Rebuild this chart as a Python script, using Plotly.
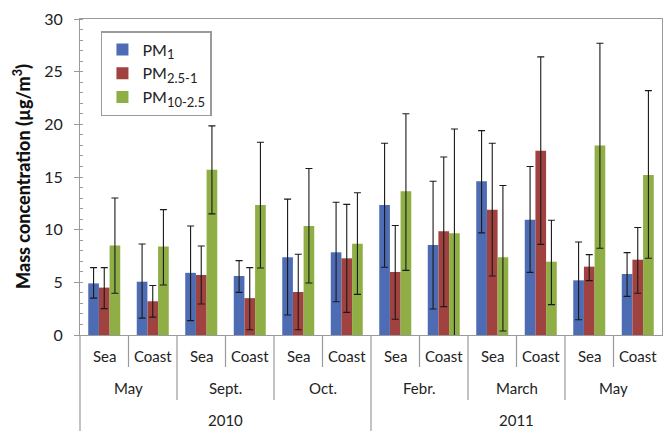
import plotly.graph_objects as go

sites = ["Sea", "Coast"] * 6
months = ["May", "Sept.", "Oct.", "Febr.", "March", "May"]
years = ["2010", "2011"]

pm1 = [4.9, 5.06, 5.9, 5.6, 7.38, 7.85, 12.35, 8.55, 14.6, 10.95, 5.19, 5.79]
pm1_up = [6.4, 8.64, 10.35, 7.06, 12.9, 12.6, 18.2, 14.6, 19.4, 16.0, 8.83, 7.82]
pm1_lo = [3.5, 1.6, 1.36, 4.05, 1.9, 3.16, 6.43, 2.47, 9.7, 5.95, 1.45, 3.67]

pm25 = [4.5, 3.2, 5.7, 3.5, 4.08, 7.28, 5.98, 9.85, 11.9, 17.5, 6.49, 7.15]
pm25_up = [6.4, 4.7, 8.45, 6.4, 7.66, 12.4, 10.4, 16.9, 18.2, 26.4, 7.63, 10.2]
pm25_lo = [2.5, 1.7, 2.94, 0.5, 0.5, 2.15, 1.49, 2.69, 5.6, 8.6, 5.16, 3.96]

pm10 = [8.5, 8.4, 15.7, 12.35, 10.35, 8.67, 13.65, 9.66, 7.38, 6.96, 18.0, 15.2]
pm10_up = [13.0, 11.9, 19.85, 18.3, 15.8, 13.5, 21.0, 19.56, 14.2, 10.9, 27.7, 23.2]
pm10_lo = [3.96, 4.75, 11.5, 6.36, 4.94, 3.86, 6.14, -0.4, 0.38, 2.88, 8.23, 7.28]

SUB = '<sub><span style="font-size:13px">{}</span></sub>'
series = [
    ("PM" + SUB.format("1"), pm1, pm1_up, pm1_lo, "#4d6cb3"),
    ("PM" + SUB.format("2.5-1"), pm25, pm25_up, pm25_lo, "#a0423f"),
    ("PM" + SUB.format("10-2.5"), pm10, pm10_up, pm10_lo, "#8fae46"),
]

FONT = "Lato"
x = list(range(len(sites)))

fig = go.Figure()
for name, vals, up, lo, col in series:
    fig.add_trace(go.Bar(
        x=x, y=vals, name=name, marker=dict(color=col, line=dict(width=0)),
        error_y=dict(type="data", symmetric=False,
                     array=[u - v for u, v in zip(up, vals)],
                     arrayminus=[v - l for v, l in zip(vals, lo)],
                     color="#1a1a1a", thickness=1.1, width=3.5),
    ))

H = 316.0
def py(px_below):
    return -px_below / H

shapes = []
for i in range(len(sites)):
    b = i + 0.5
    if b >= len(sites) - 0.5:
        continue
    if i % 2 == 0:
        y1 = py(32)
    elif i == 5:
        y1 = py(96)
    else:
        y1 = py(65)
    shapes.append(dict(type="line", xref="x", yref="paper", x0=b, x1=b, y0=0, y1=y1,
                       line=dict(color="#9a9a9a", width=1.2)))
shapes.append(dict(type="line", xref="paper", yref="paper", x0=0, x1=0, y0=0, y1=py(96),
                   line=dict(color="#9a9a9a", width=1.2)))

annotations = []
for i, s in enumerate(sites):
    annotations.append(dict(x=i, y=py(21), xref="x", yref="paper", text=s, showarrow=False,
                            font=dict(size=15, color="#222", family=FONT), yanchor="middle"))
for j, m in enumerate(months):
    annotations.append(dict(x=2 * j + 0.5, y=py(53), xref="x", yref="paper", text=m, showarrow=False,
                            font=dict(size=15, color="#222", family=FONT), yanchor="middle"))
for k, yr in enumerate(years):
    annotations.append(dict(x=6 * k + 2.5, y=py(85), xref="x", yref="paper", text=yr, showarrow=False,
                            font=dict(size=15, color="#222", family=FONT), yanchor="middle"))
annotations.append(dict(x=-58 / 582, y=0.5, xref="paper", yref="paper",
                        text="Mass concentration (µg/m<sup>3</sup>)", textangle=-90,
                        showarrow=False,
                        font=dict(size=18, color="#111", family=FONT, weight=900),
                        xanchor="center", yanchor="middle"))

fig.update_layout(
    width=664, height=431,
    margin=dict(l=80, r=2, t=19, b=96),
    paper_bgcolor="white", plot_bgcolor="white",
    barmode="group", bargap=0.34, bargroupgap=0,
    font=dict(family=FONT, color="#222"),
    showlegend=True,
    legend=dict(x=0.036, y=0.962, xanchor="left", yanchor="top",
                bgcolor="white", bordercolor="#9a9a9a", borderwidth=1.5,
                font=dict(size=16, family=FONT, color="#222"),
                tracegroupgap=4, itemwidth=30),
    xaxis=dict(range=[-0.5, len(sites) - 0.5], showticklabels=False, ticks="",
               showline=True, linecolor="#9a9a9a", linewidth=1.2, mirror=True,
               showgrid=False, zeroline=False),
    yaxis=dict(range=[0, 30], dtick=5, ticks="outside", ticklen=5, tickcolor="#9a9a9a",
               showline=True, linecolor="#9a9a9a", linewidth=1.2, mirror=True,
               showgrid=False, zeroline=False, ticklabelstandoff=8,
               tickfont=dict(size=16, color="#222", family=FONT),
               minor=dict(dtick=1, ticks="inside", ticklen=3, tickcolor="#9a9a9a")),
    shapes=shapes, annotations=annotations,
)

fig.write_html("out.html")
